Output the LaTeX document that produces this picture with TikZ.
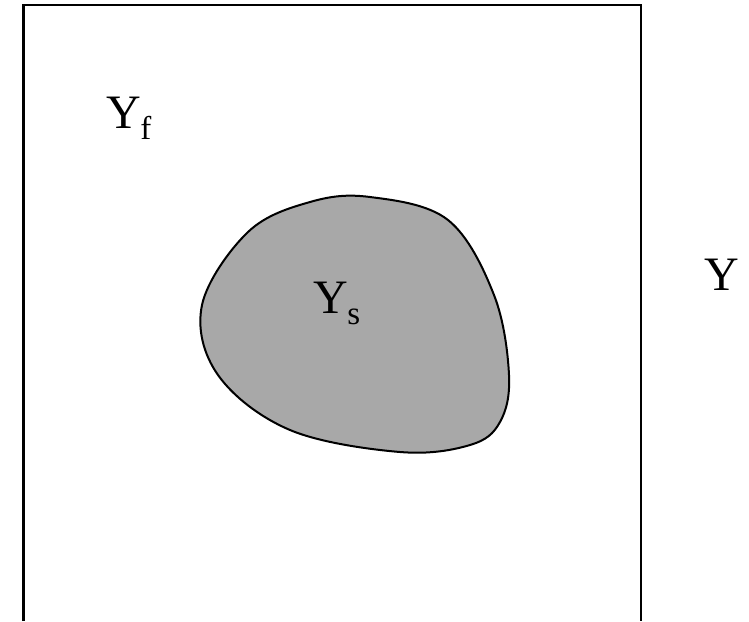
\documentclass[tikz,border=0pt]{standalone}
\usepackage{fontspec}
\setmainfont{Liberation Serif}
\usepackage{tikz}
\usetikzlibrary{calc}
\definecolor{subgray}{RGB}{168,168,168}
\newcommand{\bigY}[1]{\fontsize{48}{56}\selectfont Y\kern-0.5pt\raisebox{-11pt}{\fontsize{33}{36}\selectfont #1}}

\begin{document}
\begin{tikzpicture}[x=1pt,y=-1pt,
    lbl/.style={inner sep=0pt,anchor=base west},
    wall/.style={draw=black,line width=2.3pt},
    region/.style={draw=black,line width=2pt,fill=subgray}]
    \useasboundingbox (0,0) rectangle (749,621);
    \coordinate (BL) at (23.5,621);
    \coordinate (TL) at (23.5,5);
    \coordinate (TR) at (641,5);
    \coordinate (BR) at (641,621);
    \draw[wall] (BL) -- (TL) -- (TR) -- (BR);
    \draw[region] plot[smooth cycle,tension=0.6] coordinates {
      (370,197) (448,220) (494,295) (509,375) (500,422) (470,445)
      (400,452) (290,430) (218,375) (202,305) (248,232) (310,202)};
    \node[lbl] (Yf) at (106,128) {\bigY{f}};
    \node[lbl] (Ys) at (313,313) {\bigY{s}};
    \node[lbl] (Y) at (704,290) {\fontsize{48}{56}\selectfont Y};
\end{tikzpicture}
\end{document}
